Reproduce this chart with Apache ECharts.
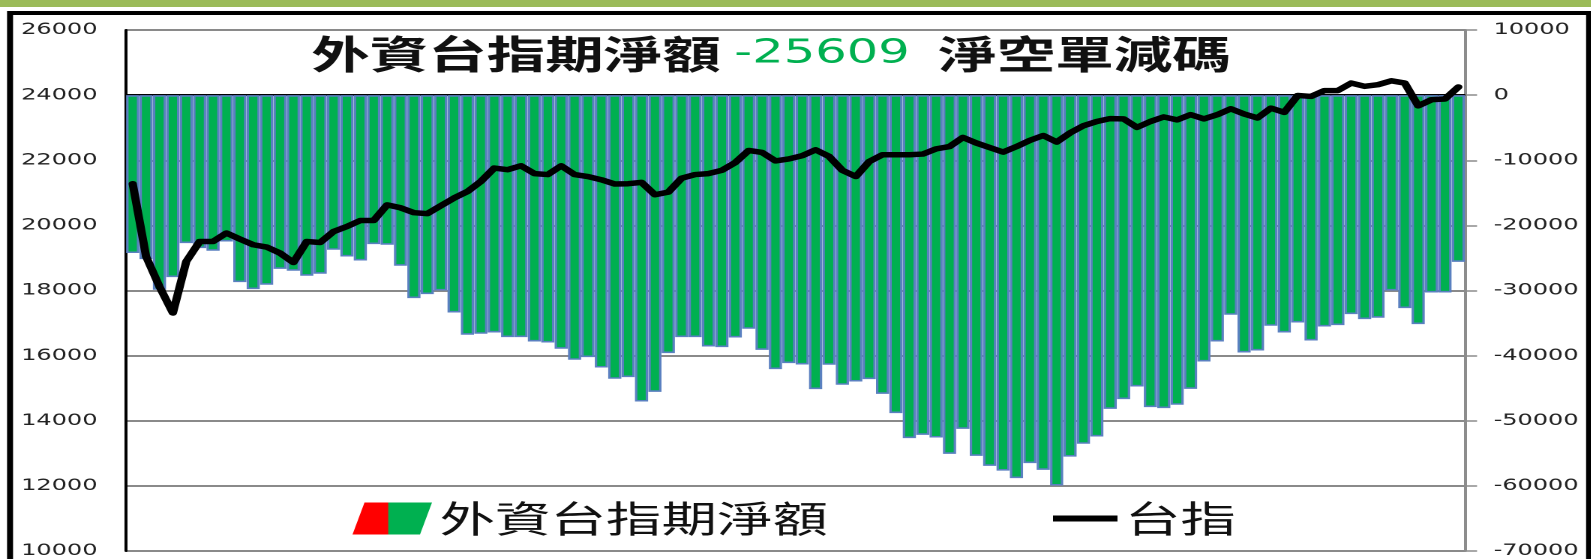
<!DOCTYPE html>
<html>
<head>
<meta charset="utf-8">
<script src="https://cdn.jsdelivr.net/npm/echarts@6.0.0/dist/echarts.min.js"></script>
<style>
html, body { margin: 0; padding: 0; background: #fff; overflow: hidden; }
/* 原圖是橫向拉寬的 Excel 圖，所以整張圖橫向放大 1.5 倍 */
#main { width: 1061px; height: 559px; transform: scaleX(1.5); transform-origin: 0 0; }
</style>
</head>
<body>
<div id="main"></div>
<script>
// 外資台指期淨額 (右軸)
var foreignNet = [
  -24250, -25180, -29890, -27940, -22720, -23490, -23900, -22470, -28710, -29780,
  -29120, -26670, -26970, -27740, -27430, -23750, -24780, -25390, -22870, -22980,
  -26200, -31170, -30550, -30000, -33380, -36800, -36650, -36450, -37160, -37160,
  -37830, -37990, -38950, -40640, -40230, -41830, -43560, -43300, -47050, -45560,
  -39610, -37160, -37160, -38600, -38690, -37220, -35880, -39110, -42070, -41150,
  -41360, -45140, -41410, -44480, -43980, -43610, -45870, -48830, -52670, -52160,
  -52580, -55080, -51240, -55390, -56920, -57650, -58810, -56510, -57540, -59950,
  -55500, -53540, -52420, -48170, -46680, -44740, -47910, -48060, -47550, -45100,
  -40900, -37830, -33730, -39520, -39210, -35420, -36450, -34910, -37680, -35530,
  -35310, -33620, -34390, -34190, -30000, -32700, -35160, -30310, -30310, -25609
];

// 台指 (左軸)
var taiex = [
  21280, 19045, 18120, 17310, 18890, 19505, 19505, 19765, 19580, 19405,
  19335, 19150, 18860, 19505, 19475, 19810, 19965, 20150, 20150, 20630,
  20540, 20390, 20360, 20600, 20840, 21040, 21350, 21760, 21710, 21830,
  21590, 21560, 21830, 21560, 21500, 21400, 21270, 21280, 21320, 20940,
  21020, 21450, 21560, 21590, 21690, 21930, 22300, 22240, 21980, 22040,
  22140, 22320, 22120, 21690, 21500, 21960, 22170, 22170, 22170, 22190,
  22350, 22420, 22700, 22530, 22390, 22250, 22420, 22610, 22760, 22560,
  22840, 23060, 23190, 23280, 23270, 23010, 23190, 23330, 23240, 23400,
  23270, 23400, 23580, 23420, 23300, 23600, 23470, 23990, 23960, 24140,
  24140, 24370, 24270, 24320, 24440, 24370, 23670, 23860, 23880, 24250
];

var days = foreignNet.map(function (v, i) { return String(i + 1); });

var titleMain = '外資台指期淨額';
var titleNum = '-25609';
var titleTail = '淨空單減碼';

var myChart = echarts.init(document.getElementById('main'), null, { devicePixelRatio: 2 });

var option = {
  backgroundColor: '#fff',
  animation: false,
  grid: {
    left: 84,
    right: 84.3,
    top: 30,
    bottom: 7.5,
    show: true,
    borderColor: '#222',
    borderWidth: 1
  },
  graphic: [
    { type: 'rect', shape: { x: 0, y: 0, width: 1061, height: 7 }, style: { fill: '#9bbb59' } },
    { type: 'rect', shape: { x: 6.7, y: 13, width: 1052.7, height: 600 }, style: { fill: null, stroke: '#000', lineWidth: 4 } },
    {
      type: 'text',
      x: 514,
      y: 54,
      style: {
        text: '{a|' + titleMain + '}{b|' + titleNum + '}{a|' + titleTail + '}',
        align: 'center',
        verticalAlign: 'middle',
        rich: {
          a: { fontFamily: 'Noto Sans CJK TC', fontWeight: 'bold', fontSize: 39, fill: '#111' },
          b: { fontFamily: 'DejaVu Sans', fontSize: 33, fill: '#00b050', padding: [0, 19, 0, 9] }
        }
      }
    }
  ],
  legend: [
    {
      data: [{
        name: '外資台指期淨額',
        icon: 'path://M8,0 L53,0 L45,32 L0,32 Z',
        itemStyle: {
          color: {
            type: 'linear', x: 0, y: 0, x2: 1, y2: 0,
            colorStops: [
              { offset: 0, color: '#ff0000' },
              { offset: 0.44, color: '#ff0000' },
              { offset: 0.46, color: '#00b050' },
              { offset: 1, color: '#00b050' }
            ]
          },
          borderWidth: 0
        }
      }],
      left: 230,
      top: 495,
      itemWidth: 53,
      itemHeight: 32,
      textStyle: { fontFamily: 'Noto Sans CJK TC', fontSize: 37, color: '#111' }
    },
    {
      data: ['台指'],
      icon: 'rect',
      left: 697,
      top: 495,
      itemWidth: 43,
      itemHeight: 6,
      textStyle: { fontFamily: 'Noto Sans CJK TC', fontSize: 37, color: '#111' }
    }
  ],
  xAxis: {
    type: 'category',
    data: days,
    boundaryGap: true,
    axisLine: { lineStyle: { color: '#000', width: 2 } },
    axisTick: { show: false },
    axisLabel: { show: false }
  },
  yAxis: [
    {
      type: 'value',
      position: 'left',
      min: 10000,
      max: 26000,
      interval: 2000,
      axisLine: { show: true, lineStyle: { color: '#000', width: 2 } },
      axisTick: { show: false },
      axisLabel: {
        fontFamily: 'DejaVu Sans', fontSize: 16, color: '#222', margin: 19,
        formatter: function (v) { return String(v); }
      },
      splitLine: { lineStyle: { color: '#8a8a8a', width: 2 } }
    },
    {
      type: 'value',
      position: 'right',
      min: -70000,
      max: 10000,
      interval: 10000,
      axisLine: { show: true, lineStyle: { color: '#8c8c8c', width: 2 } },
      axisTick: { show: true, inside: false, length: 8, lineStyle: { color: '#8c8c8c', width: 1.5 } },
      axisLabel: {
        fontFamily: 'DejaVu Sans', fontSize: 16, color: '#222', margin: 19,
        formatter: function (v) { return String(v); }
      },
      splitLine: { show: false }
    }
  ],
  series: [
    {
      name: '外資台指期淨額',
      type: 'bar',
      yAxisIndex: 1,
      data: foreignNet,
      barCategoryGap: '2%',
      itemStyle: { color: '#00b050', borderColor: '#5a80c0', borderWidth: 1.6 }
    },
    {
      name: '台指',
      type: 'line',
      yAxisIndex: 0,
      data: taiex,
      showSymbol: false,
      symbol: 'none',
      itemStyle: { color: '#000' },
      lineStyle: { color: '#000', width: 5.5, cap: 'round', join: 'round' },
      z: 5
    }
  ]
};

myChart.setOption(option);
</script>
</body>
</html>
